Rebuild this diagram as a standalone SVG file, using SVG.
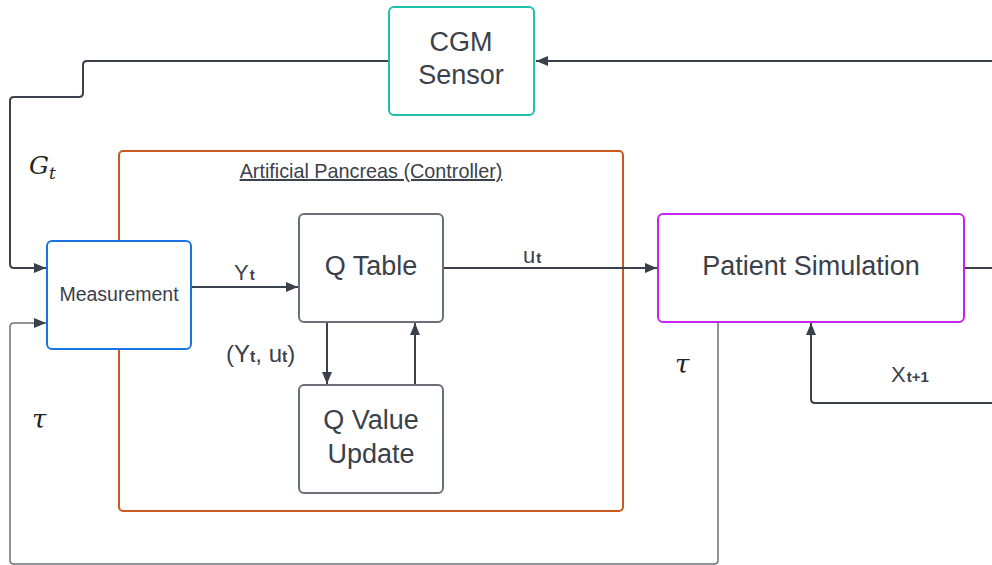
<svg xmlns="http://www.w3.org/2000/svg" width="992" height="565" viewBox="0 0 992 565">
<defs>
<marker id="ah" markerWidth="12" markerHeight="10" refX="12" refY="5" orient="auto" markerUnits="userSpaceOnUse">
<path d="M0,0 L12,5 L0,10 Z" fill="#3a414a"/>
</marker>
</defs>
<style>
.box{fill:#fff;stroke-width:2}
.t{font-family:"Liberation Sans",Arial,sans-serif;fill:#3a414a}
.big{font-size:27px}
.lbl{font-size:22px}
.sub{font-size:15px}
.m{font-family:"DejaVu Serif","Liberation Serif",serif;font-style:italic;fill:#222;}
.ln{fill:none;stroke:#3a414a;stroke-width:2}
.lg{fill:none;stroke:#6b7078;stroke-width:1.5}
</style>
<rect width="992" height="565" fill="#fff"/>
<g id="pancreas">
<rect x="119" y="151" width="504" height="360" rx="4" fill="none" stroke="#cc5a1c" stroke-width="2"/>
<text class="t" x="371" y="178" font-size="19.8" text-anchor="middle" text-decoration="underline">Artificial Pancreas (Controller)</text>
</g>
<g id="connectors">
<path class="ln" d="M992,61 L536,61" marker-end="url(#ah)"/>
<path class="ln" d="M389,61 L87,61 Q83,61 83,65 L83,93 Q83,97 79,97 L14,97 Q10,97 10,101 L10,264 Q10,268 14,268 L46,268" marker-end="url(#ah)"/>
<path class="lg" d="M718,322 L718,560 Q718,564 714,564 L14,564 Q10,564 10,560 L10,327 Q10,323 14,323 L46,323" marker-end="url(#ah)"/>
<path class="ln" d="M191,287 L298,287" stroke-width="1.5" marker-end="url(#ah)"/>
<path class="ln" d="M443,268 L657,268" marker-end="url(#ah)"/>
<path class="ln" d="M327,322 L327,384" marker-end="url(#ah)"/>
<path class="ln" d="M415,385 L415,323" marker-end="url(#ah)"/>
<path class="ln" d="M964,268 L992,268"/>
<path class="ln" d="M992,403 L815,403 Q811,403 811,399 L811,323" marker-end="url(#ah)"/>
</g>
<g id="cgm">
<rect class="box" x="389" y="7" width="145" height="108" rx="5" stroke="#1ec2aa"/>
<text class="t big" x="461" y="51" text-anchor="middle">CGM</text>
<text class="t big" x="461" y="84" text-anchor="middle">Sensor</text>
</g>
<g id="measurement">
<rect class="box" x="47" y="241" width="144" height="108" rx="5" stroke="#1a74e2"/>
<text class="t" x="119" y="301" font-size="19.5" text-anchor="middle">Measurement</text>
</g>
<g id="qtable">
<rect class="box" x="299" y="214" width="144" height="108" rx="5" stroke="#6b7078" stroke-width="1.5"/>
<text class="t big" x="371" y="275" text-anchor="middle">Q Table</text>
</g>
<g id="qvalue">
<rect class="box" x="299" y="385" width="144" height="108" rx="5" stroke="#6b7078" stroke-width="1.5"/>
<text class="t big" x="371" y="429" text-anchor="middle">Q Value</text>
<text class="t big" x="371" y="463" text-anchor="middle">Update</text>
</g>
<g id="patient">
<rect class="box" x="658" y="214" width="306" height="108" rx="5" stroke="#c524ee"/>
<text class="t big" x="811" y="275" text-anchor="middle">Patient Simulation</text>
</g>
<g id="labels">
<text class="t lbl" x="234" y="280">Y<tspan class="sub" font-weight="bold" dx="1">t</tspan></text>
<text class="t lbl" x="523" y="263">u<tspan class="sub" font-weight="bold" dx="1">t</tspan></text>
<text class="t" font-size="24" x="226" y="362">(Y<tspan font-size="16" font-weight="bold">t</tspan>, u<tspan font-size="16" font-weight="bold">t</tspan>)</text>
<text class="t lbl" x="891" y="382">X<tspan class="sub" font-weight="bold" dx="1">t+1</tspan></text>
<text class="m" x="29" y="174" font-size="25">G<tspan font-size="17" dy="5">t</tspan></text>
<text class="m" x="32" y="428" font-size="26">τ</text>
<text class="m" x="675" y="373" font-size="26">τ</text>
</g>
</svg>
